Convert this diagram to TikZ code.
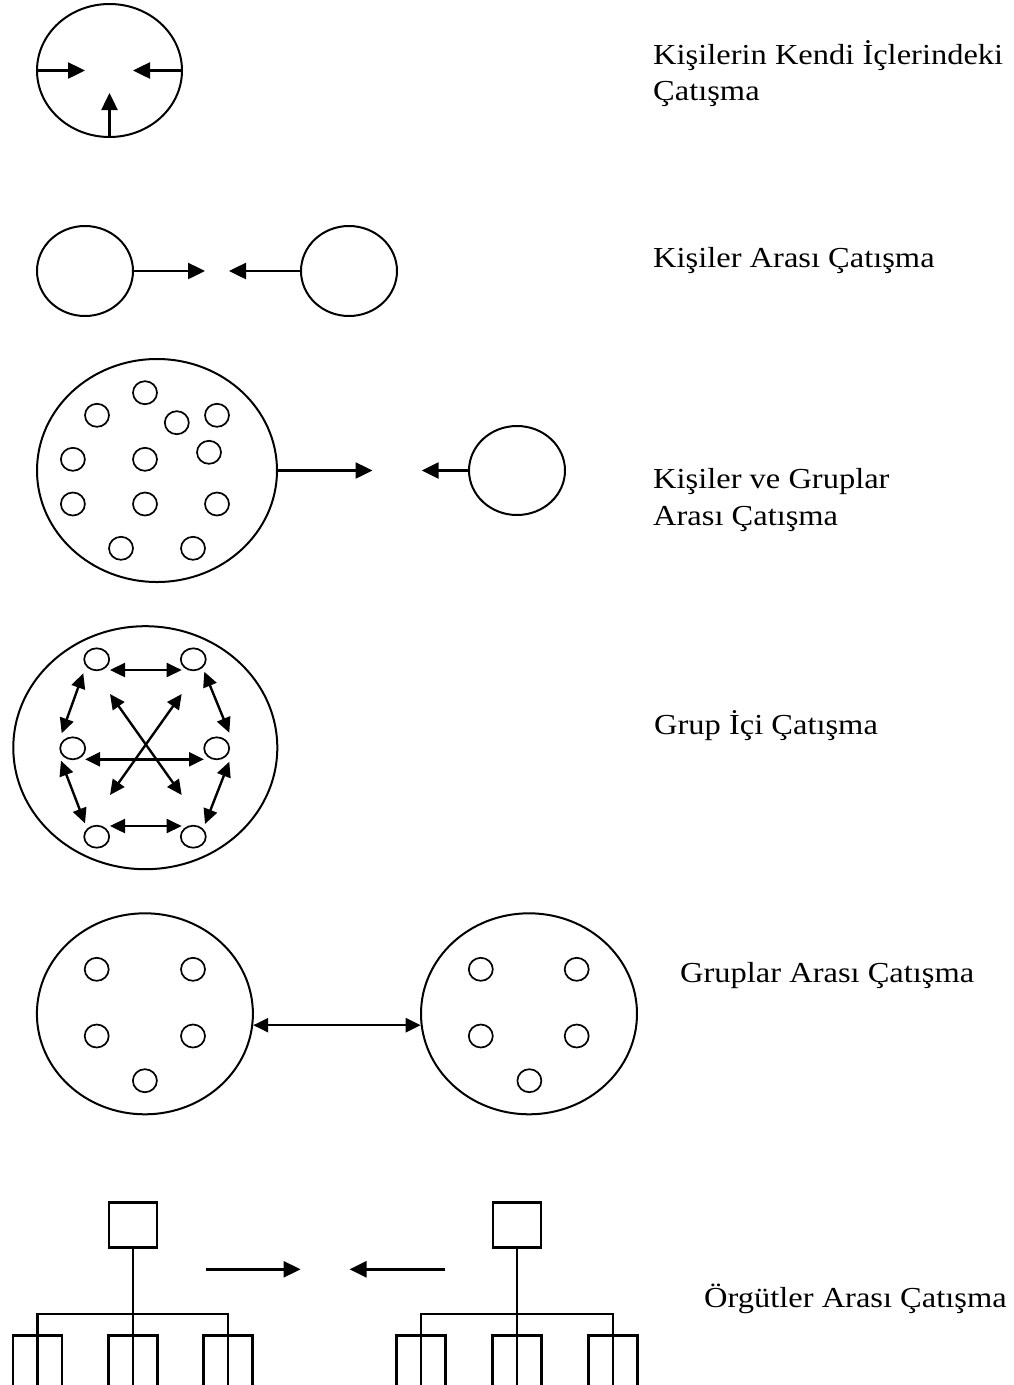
\documentclass[tikz,border=0pt]{standalone}
\usepackage{fontspec}
\setmainfont{Liberation Serif}[FakeStretch=1.12]
\usetikzlibrary{shapes.geometric,arrows.meta}
\tikzset{
  ring/.style={draw, ellipse, line width=2pt, inner sep=0pt},
  dot/.style={draw, ellipse, line width=1.7pt, inner sep=0pt, minimum width=24pt, minimum height=23pt},
  arr/.style={line width=2.5pt, -{Triangle[length=17pt,width=16pt]}},
  darr/.style={line width=2.4pt, {Triangle[length=15pt,width=14pt]}-{Triangle[length=15pt,width=14pt]}},
  tree/.style={line width=2.5pt},
  orgbox/.style={draw, rectangle, line width=2.5pt, minimum width=48pt, minimum height=45pt, inner sep=0pt},
  lbl/.style={anchor=base west, inner sep=0pt, font=\fontsize{29}{34}\selectfont}
}
\begin{document}
\begin{tikzpicture}[x=1pt,y=-1pt]
\useasboundingbox (0,0) rectangle (1014,1385);

% ---------- 1: Kisilerin kendi iclerindeki catisma
\node[ring, minimum width=145pt, minimum height=133pt] (p1) at (109.5,70.5) {};
\coordinate (p1l) at (85,70.5);
\coordinate (p1r) at (133,70.5);
\coordinate (p1b) at (109.5,93);
\draw[arr] (p1.west) -- (p1l);
\draw[arr] (p1.east) -- (p1r);
\draw[arr] (p1.south) -- (p1b);
\node[lbl] (t1a) at (653,64) {Kişilerin Kendi İçlerindeki};
\node[lbl] (t1b) at (653,100) {Çatışma};

% ---------- 2: Kisiler arasi catisma
\node[ring, minimum width=96pt, minimum height=90pt] (a2) at (85,271) {};
\node[ring, minimum width=96pt, minimum height=90pt] (b2) at (349,271) {};
\coordinate (a2t) at (205,271);
\coordinate (b2t) at (229,271);
\draw[arr] (a2.east) -- (a2t);
\draw[arr] (b2.west) -- (b2t);
\node[lbl] (t2) at (653,267) {Kişiler Arası Çatışma};

% ---------- 3: Kisiler ve gruplar arasi catisma
\node[ring, minimum width=240pt, minimum height=223pt] (g3) at (157,470.5) {};
\foreach \n/\x/\y in {1/145/392.7, 2/97/415.3, 3/176.8/422.7, 4/217/415.3,
  5/72.9/459.3, 6/145/459.3, 7/209/452.3, 8/72.9/504, 9/145/504, 10/217/504,
  11/121/548.3, 12/193/548.3}
  \node[dot] (g3m\n) at (\x,\y) {};
\node[ring, minimum width=96pt, minimum height=89pt] (c3) at (517,470.5) {};
\coordinate (g3t) at (372.5,470.5);
\coordinate (c3t) at (421.7,470.5);
\draw[arr] (g3.east) -- (g3t);
\draw[arr] (c3.west) -- (c3t);
\node[lbl] (t3a) at (653,488) {Kişiler ve Gruplar};
\node[lbl] (t3b) at (653,525) {Arası Çatışma};

% ---------- 4: Grup ici catisma
\node[ring, minimum width=264pt, minimum height=243pt] (g4) at (145.3,747.7) {};
\foreach \n/\x/\y in {tl/96.7/659.3, tr/193.3/659.3, ml/72.7/748.3, mr/216.7/748.3,
  bl/96.7/836.7, br/193.3/836.7}
  \node[dot, minimum width=25pt, minimum height=22pt] (m\n) at (\x,\y) {};
\foreach \n/\x/\y in {
  ta/110/670, tb/181.7/670,
  ba/110/826, bb/181.7/826,
  ma/85/759.3, mb/204/759.3,
  lta/83.3/673.3, ltb/61.7/733.3,
  lba/61/760.7, lbb/85/823.3,
  rta/204.3/671.7, rtb/229.3/732.7,
  rba/229.3/761.7, rbb/205/824,
  da/110/694, db/181.7/795,
  ea/181.7/694, eb/110/795}
  \coordinate (q\n) at (\x,\y);
\draw[darr] (qta) -- (qtb);
\draw[darr] (qba) -- (qbb);
\draw[darr] (qma) -- (qmb);
\draw[darr] (qlta) -- (qltb);
\draw[darr] (qlba) -- (qlbb);
\draw[darr] (qrta) -- (qrtb);
\draw[darr] (qrba) -- (qrbb);
\draw[darr] (qda) -- (qdb);
\draw[darr] (qea) -- (qeb);
\node[lbl] (t4) at (654,734) {Grup İçi Çatışma};

% ---------- 5: Gruplar arasi catisma
\node[ring, minimum width=216pt, minimum height=201pt] (g5a) at (144.9,1013.8) {};
\node[ring, minimum width=216pt, minimum height=201pt] (g5b) at (529,1013.8) {};
\foreach \n/\x/\y in {1/96.7/969.3, 2/193/969.3, 3/96.7/1036, 4/193/1036, 5/144.9/1080.7}
  \node[dot] (g5am\n) at (\x,\y) {};
\foreach \n/\x/\y in {1/480.8/969.3, 2/576.7/969.3, 3/480.8/1036, 4/576.7/1036, 5/529.4/1080.7}
  \node[dot] (g5bm\n) at (\x,\y) {};
\draw[darr] (g5a.-6.3) -- (g5b.186.3);
\node[lbl] (t5) at (680,982) {Gruplar Arası Çatışma};

% ---------- 6: Orgutler arasi catisma
\node[orgbox] (o1) at (133,1225.2) {};
\node[orgbox] (o2) at (517,1225.2) {};
\draw[tree] (o1.south) -- (133,1385);
\draw[tree] (o2.south) -- (517,1385);
\draw[tree] (37.3,1385) -- (37.3,1314) -- (228,1314) -- (228,1385);
\draw[tree] (421,1385) -- (421,1314) -- (612.8,1314) -- (612.8,1385);
\foreach \c in {37.3,133,228,421,517,612.8}
  \draw[tree] (\c-24.5,1385) -- (\c-24.5,1335.7) -- (\c+24.5,1335.7) -- (\c+24.5,1385);
\coordinate (o1s) at (205.6,1269.3);
\coordinate (o1t) at (300.6,1269.3);
\coordinate (o2s) at (444.9,1269.3);
\coordinate (o2t) at (349.5,1269.3);
\draw[arr] (o1s) -- (o1t);
\draw[arr] (o2s) -- (o2t);
\node[lbl] (t6) at (704,1307) {Örgütler Arası Çatışma};
\end{tikzpicture}
\end{document}
